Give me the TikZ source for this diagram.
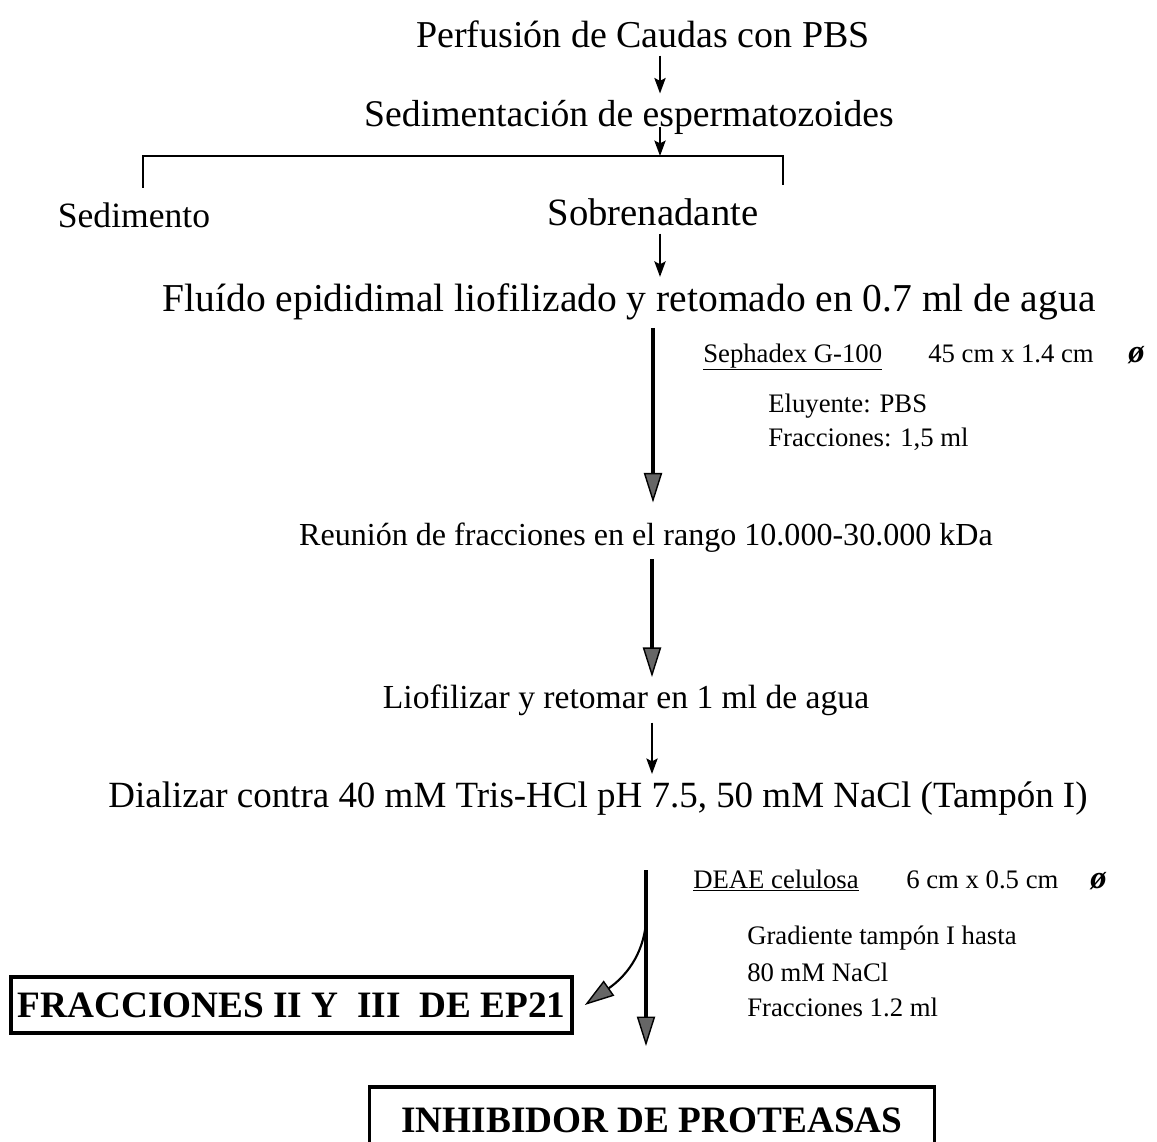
\documentclass[tikz,border=0pt]{standalone}
\usepackage{fontspec}
\setmainfont{Liberation Serif}
\usetikzlibrary{arrows.meta,positioning}

\begin{document}
\begin{tikzpicture}[
    x=0.025cm,
    y=-0.025cm,
    stage/.style={
        inner sep=5pt,
        anchor=base,
        font=\fontsize{#1}{#1}\selectfont
    },
    stage/.default=26pt,
    note/.style={
        inner sep=0pt,
        anchor=base west,
        font=\fontsize{19pt}{22pt}\selectfont
    },
    diam/.style={
        note,
        font=\bfseries\itshape\fontsize{23pt}{23pt}\selectfont
    },
    resultbox/.style={
        draw,
        line width=2.2pt,
        inner sep=0pt,
        font=\bfseries\fontsize{26.5pt}{30pt}\selectfont
    },
    smallarrow/.style={
        draw,
        line width=1.3pt,
        -{Stealth[length=11pt,width=8pt,inset=2pt]}
    },
    bigarrow/.style={
        draw,
        line width=2.2pt,
        -{Triangle[length=21pt,width=13pt,fill=black!60,line width=1pt]}
    },
    curvearrow/.style={
        draw,
        line width=1.5pt,
        -{Triangle[length=21pt,width=13pt,fill=black!60,line width=1pt]}
    },
    bracket/.style={
        draw,
        line width=1.6pt
    }
]

    \useasboundingbox (0,0) rectangle (1157,1142);
    \clip (0,0) rectangle (1157,1142);

    % Steps
    \node [stage=27pt] (perf) at (643,48) {Perfusión de Caudas con PBS};
    \node [stage=26.8pt] (sedi) at (629,127) {Sedimentación de espermatozoides};
    \node [stage=25.3pt] (sedm) at (134,228) {Sedimento};
    \node [stage=27.5pt] (sobr) at (653,226) {Sobrenadante};
    \node [stage=28.1pt] (flui) at (629,312) {Fluído epididimal liofilizado y retomado en 0.7 ml de agua};
    \node [stage=22.8pt] (reun) at (646,545) {Reunión de fracciones en el rango 10.000-30.000 kDa};
    \node [stage=23.9pt] (liof) at (626,708) {Liofilizar y retomar en 1 ml de agua};
    \node [stage=26.3pt] (dial) at (598,807) {Dializar contra 40 mM Tris-HCl pH 7.5, 50 mM NaCl (Tampón I)};

    % Sephadex column
    \node [note] (seph) at (703,362) {\underline{Sephadex G-100}};
    \node [note] (sephdim) at (928,362) {45 cm x 1.4 cm};
    \node [diam] (sephdiam) at (1128,362) {ø};
    \node [note] (eluy) at (768,412) {Eluyente: PBS};
    \node [note] (sephfrac) at (768,446) {Fracciones: 1,5 ml};

    % DEAE column
    \node [note] (deae) at (693,888) {\underline{DEAE celulosa}};
    \node [note] (deaedim) at (906,888) {6 cm x 0.5 cm};
    \node [diam] (deaediam) at (1090,888) {ø};
    \node [note] (grad) at (747,944) {Gradiente tampón I hasta};
    \node [note] (nacl) at (747,981) {80 mM NaCl};
    \node [note] (deaefrac) at (747,1016) {Fracciones 1.2 ml};

    % Results
    \node [resultbox, minimum width=399pt, minimum height=39.8pt] (ep21) at (291.5,1005) {FRACCIONES II Y\hspace{0.5em}III\hspace{0.5em}DE EP21};
    \node [resultbox, minimum width=402pt, minimum height=47pt] (inhib) at (652,1120) {INHIBIDOR DE PROTEASAS};

    % Edges
    \coordinate (fork) at (660,156);
    \coordinate (legL) at (143,188);
    \coordinate (legR) at (783,185);
    \coordinate (colA) at (653,0);
    \coordinate (colB) at (652,0);
    \coordinate (colC) at (646,0);
    \coordinate (branch) at (646,922);

    \path [smallarrow] (perf.south -| fork) -- (sedi.north -| fork);
    \path [smallarrow] (sedi.base -| fork) -- (fork);
    \path [bracket] (legL) |- (fork) -| (legR);
    \path [smallarrow] (sobr.south -| fork) -- (flui.north -| fork);

    \path [bigarrow, shorten >=9pt] (flui.south -| colA) -- (reun.north -| colA);
    \path [bigarrow] (reun.south -| colB) -- (liof.north -| colB);
    \path [smallarrow] (liof.south -| colB) -- (dial.north -| colB);
    \path [bigarrow, shorten <=34pt, shorten >=28pt] (dial.south -| colC) -- (inhib.north -| colC);
    \path [curvearrow] (branch) to[out=-95, in=35] ([xshift=8pt]ep21.east);

\end{tikzpicture}
\end{document}
